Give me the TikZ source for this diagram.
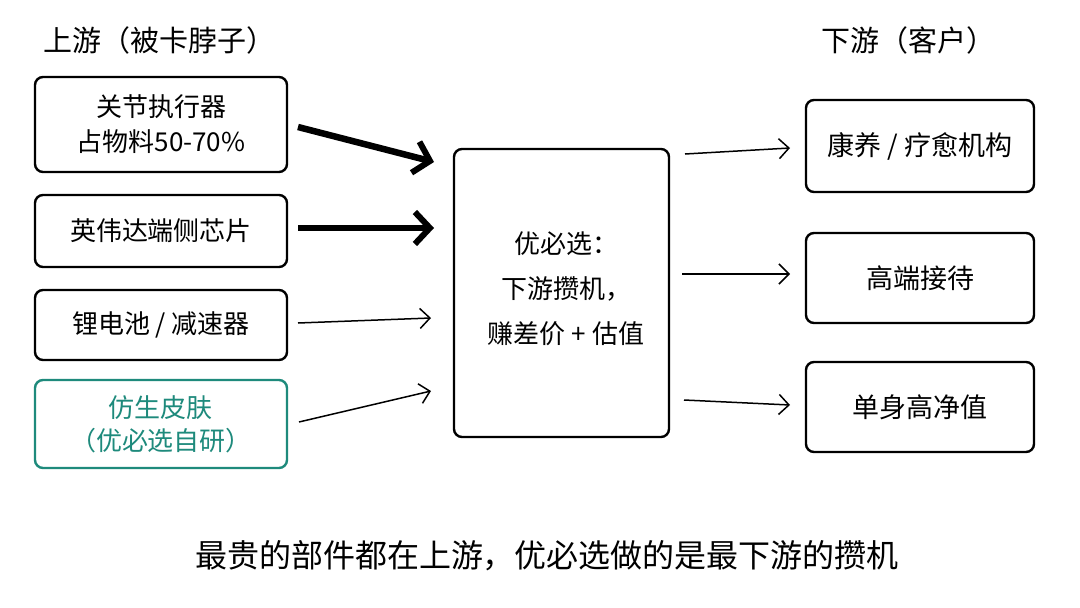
\documentclass[tikz,border=0pt]{standalone}
\usepackage{fontspec}
\setmainfont{Noto Sans CJK SC}
\usetikzlibrary{arrows.meta}
\definecolor{teal1}{HTML}{1E8A7C}
\tikzset{
  box/.style={draw, line width=2.4pt, rounded corners=8pt, inner sep=0pt, align=center, font=\fontsize{26}{35}\selectfont},
  tealbox/.style={box, draw=teal1, text=teal1},
  heavyarrow/.style={line width=6.5pt, -{Straight Barb[length=15pt,width=32pt,line width=6pt]}},
  lightarrow/.style={line width=1.5pt, -{Straight Barb[length=10pt,width=20pt,line width=1.5pt]}},
  hdr/.style={font=\fontsize{29}{32}\selectfont, anchor=west},
}
\begin{document}
\begin{tikzpicture}[x=1pt,y=-1pt]
\useasboundingbox (0,0) rectangle (1080,608);
\fill[white] (0,0) rectangle (1080,608);

% headers
\node[hdr] (hup) at (40,40) {上游（被卡脖子）};
\node[hdr] (hdown) at (818,40) {下游（客户）};

% left boxes
\node[box, minimum width=252pt, minimum height=95pt] (l1) at (161,124.5) {关节执行器\\占物料50-70\%};
\node[box, minimum width=252pt, minimum height=72pt] (l2) at (161,231) {英伟达端侧芯片};
\node[box, minimum width=252pt, minimum height=70pt] (l3) at (161,325) {锂电池 / 减速器};
\node[tealbox, font=\fontsize{26}{33}\selectfont, minimum width=252pt, minimum height=88pt] (l4) at (161,424) {仿生皮肤\\（优必选自研）};

% center box
\node[box, minimum width=215pt, minimum height=288pt] (c) at (561.5,293) {};
\node[font=\fontsize{26}{45}\selectfont, align=center] (ct) at (566,289) {优必选：\\下游攒机，\\赚差价 + 估值};

% right boxes
\node[box, font=\fontsize{27}{35}\selectfont, minimum width=228pt, minimum height=92pt] (r1) at (920,146) {康养 / 疗愈机构};
\node[box, font=\fontsize{27}{35}\selectfont, minimum width=228pt, minimum height=90pt] (r2) at (920,278) {高端接待};
\node[box, font=\fontsize{27}{35}\selectfont, minimum width=228pt, minimum height=90pt] (r3) at (920,407) {单身高净值};

% arrow end points
\coordinate (a1s) at (298,127);
\coordinate (a1e) at (434,162);
\coordinate (a2s) at (298,228);
\coordinate (a2e) at (434,228);
\coordinate (a3s) at (298,323);
\coordinate (a3e) at (431,318);
\coordinate (a4s) at (299,422);
\coordinate (a4e) at (431,391);
\coordinate (b1s) at (685,154);
\coordinate (b1e) at (790,148);
\coordinate (b2s) at (682,274);
\coordinate (b2e) at (790,274);
\coordinate (b3s) at (684,400);
\coordinate (b3e) at (790,405);

\draw[heavyarrow] (a1s) -- (a1e);
\draw[heavyarrow] (a2s) -- (a2e);
\draw[lightarrow] (a3s) -- (a3e);
\draw[lightarrow] (a4s) -- (a4e);
\draw[lightarrow] (b1s) -- (b1e);
\draw[lightarrow] (b2s) -- (b2e);
\draw[lightarrow] (b3s) -- (b3e);

% caption
\node[font=\fontsize{32}{36}\selectfont] (cap) at (547,556) {最贵的部件都在上游，优必选做的是最下游的攒机};
\end{tikzpicture}
\end{document}
